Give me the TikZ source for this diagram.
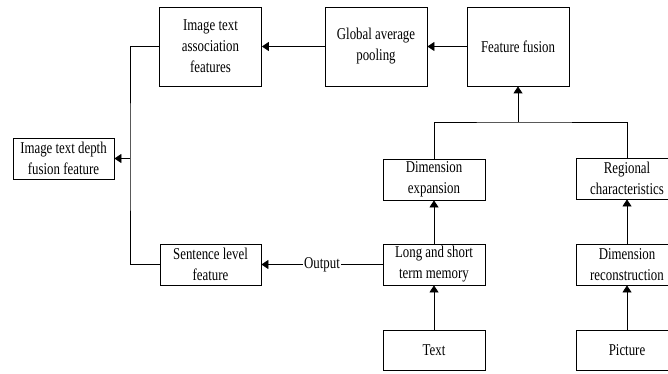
\documentclass[tikz,border=0pt]{standalone}
\usepackage{fontspec}
\setmainfont{Liberation Serif}[FakeStretch=0.78]
\usepackage{tikz}
\usetikzlibrary{arrows.meta,positioning}
\tikzstyle{box} = [draw, line width=0.8pt, align=center, inner sep=1pt, minimum width=102pt, font=\fontsize{16.5}{21}\selectfont]
\tikzstyle{tall} = [box, minimum height=79pt]
\tikzstyle{flat} = [box, minimum height=41pt]
\tikzstyle{arrow} = [line width=0.8pt, -{Triangle[length=7pt,width=9pt]}]
\tikzstyle{line} = [line width=0.8pt]

\begin{document}
\begin{tikzpicture}[x=1pt, y=-1pt]
\useasboundingbox (0,0) rectangle (668,374);

% Top row
\node[tall] (assoc) at (210.5,46.5) {Image text\\association\\features};
\node[tall] (pool) at (376,46.5) {Global average\\pooling};
\node[tall] (fusion) at (518,46.5) {Feature fusion};

% Left side
\node[flat, minimum width=101pt] (depth) at (63.5,158.5) {Image text depth\\fusion feature};
\node[flat, minimum width=101pt] (sent) at (210.5,264.5) {Sentence level\\feature};

% Text branch
\node[flat] (expand) at (434,179.5) {Dimension\\expansion};
\node[flat] (lstm) at (434,264.5) {Long and short\\term memory};
\node[flat, minimum height=40pt] (text) at (434,350) {Text};

% Picture branch
\node[flat] (region) at (627,178.5) {Regional\\characteristics};
\node[flat] (recon) at (627,264.5) {Dimension\\reconstruction};
\node[flat, minimum height=40pt] (pic) at (627,350) {Picture};

% Connectors
\coordinate (bus) at (518,122);
\coordinate (join) at (130,158.5);
\draw[arrow] (fusion) -- (pool);
\draw[arrow] (pool) -- (assoc);
\draw[line] (expand.north) |- (bus) -| (region.north);
\draw[arrow] (bus) -- (fusion.south);
\draw[line] (assoc.west) -| (join) |- (sent.west);
\draw[arrow] (join) -- (depth.east);
\draw[arrow] (lstm) -- node[fill=white, inner sep=1pt, font=\fontsize{16.5}{21}\selectfont] {Output} (sent);
\draw[arrow] (text) -- (lstm);
\draw[arrow] (lstm) -- (expand);
\draw[arrow] (pic) -- (recon);
\draw[arrow] (recon) -- (region);
\end{tikzpicture}
\end{document}
